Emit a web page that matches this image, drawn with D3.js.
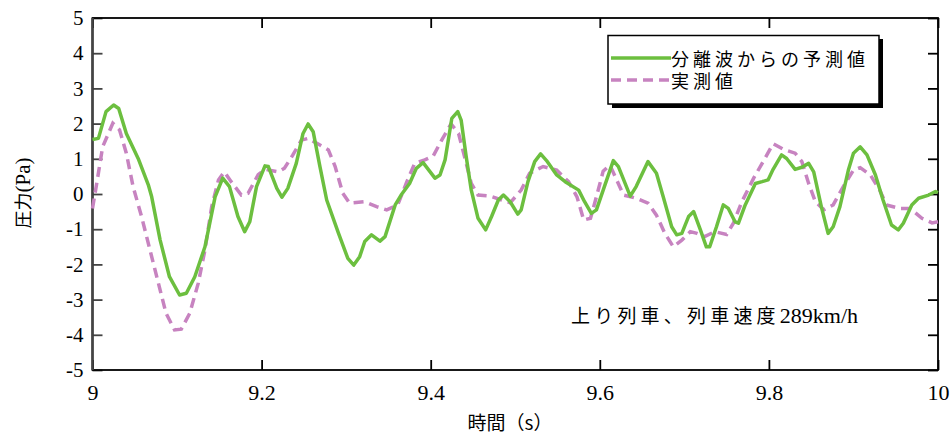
<!DOCTYPE html>
<html>
<head>
<meta charset="utf-8">
<script src="https://cdn.jsdelivr.net/npm/d3@7"></script>
<style>
  body { margin: 0; background: #fff; }
  svg { display: block; }
</style>
</head>
<body>
<svg id="chart" width="952" height="439"></svg>
<script>
// predicted from separated wave (green, solid)
const predTime = [9.000, 9.007, 9.016, 9.025, 9.031, 9.040, 9.054, 9.066, 9.070, 9.080, 9.091, 9.103, 9.111, 9.121, 9.133, 9.145, 9.154, 9.162, 9.172, 9.180, 9.186, 9.194, 9.204, 9.208, 9.218, 9.224, 9.231, 9.241, 9.249, 9.255, 9.261, 9.269, 9.277, 9.291, 9.302, 9.309, 9.316, 9.322, 9.330, 9.340, 9.346, 9.358, 9.365, 9.375, 9.383, 9.391, 9.405, 9.411, 9.417, 9.425, 9.432, 9.436, 9.442, 9.448, 9.456, 9.465, 9.472, 9.480, 9.486, 9.494, 9.503, 9.507, 9.515, 9.523, 9.530, 9.537, 9.549, 9.559, 9.575, 9.582, 9.590, 9.596, 9.604, 9.616, 9.622, 9.636, 9.643, 9.657, 9.667, 9.675, 9.685, 9.691, 9.697, 9.705, 9.711, 9.719, 9.726, 9.730, 9.738, 9.746, 9.752, 9.760, 9.764, 9.772, 9.784, 9.792, 9.799, 9.805, 9.815, 9.821, 9.831, 9.839, 9.847, 9.853, 9.862, 9.870, 9.876, 9.884, 9.894, 9.900, 9.908, 9.916, 9.926, 9.935, 9.945, 9.953, 9.959, 9.969, 9.977, 9.989, 9.997, 10.000];
const predValue = [1.55, 1.58, 2.34, 2.53, 2.43, 1.72, 1.01, 0.26, -0.08, -1.31, -2.35, -2.87, -2.82, -2.35, -1.50, -0.08, 0.45, 0.21, -0.64, -1.07, -0.79, 0.21, 0.80, 0.78, 0.16, -0.09, 0.16, 0.87, 1.72, 1.99, 1.77, 0.78, -0.17, -1.12, -1.83, -2.02, -1.78, -1.35, -1.16, -1.34, -1.21, -0.31, -0.03, 0.30, 0.73, 0.89, 0.45, 0.54, 0.97, 2.15, 2.34, 2.10, 1.06, 0.11, -0.69, -1.02, -0.64, -0.17, -0.03, -0.22, -0.57, -0.45, 0.35, 0.92, 1.14, 0.95, 0.54, 0.35, 0.11, -0.22, -0.55, -0.45, 0.11, 0.95, 0.78, -0.06, 0.21, 0.92, 0.59, -0.08, -0.93, -1.16, -1.12, -0.64, -0.50, -1.02, -1.50, -1.50, -0.93, -0.31, -0.41, -0.79, -0.83, -0.31, 0.30, 0.35, 0.40, 0.70, 1.11, 1.01, 0.70, 0.76, 0.87, 0.63, -0.36, -1.12, -0.93, -0.36, 0.68, 1.16, 1.34, 1.11, 0.54, -0.17, -0.88, -1.02, -0.83, -0.31, -0.12, -0.03, 0.07, 0.04];

// measured (pink, dashed)
const measTime = [9.000, 9.005, 9.012, 9.024, 9.032, 9.040, 9.048, 9.058, 9.068, 9.078, 9.087, 9.097, 9.105, 9.115, 9.125, 9.133, 9.141, 9.149, 9.156, 9.164, 9.176, 9.184, 9.196, 9.204, 9.220, 9.227, 9.237, 9.247, 9.255, 9.269, 9.279, 9.287, 9.296, 9.304, 9.322, 9.336, 9.348, 9.361, 9.371, 9.381, 9.393, 9.403, 9.413, 9.424, 9.433, 9.440, 9.448, 9.456, 9.470, 9.484, 9.494, 9.507, 9.517, 9.533, 9.549, 9.563, 9.573, 9.581, 9.589, 9.596, 9.604, 9.612, 9.620, 9.628, 9.643, 9.657, 9.667, 9.677, 9.687, 9.697, 9.707, 9.715, 9.724, 9.736, 9.750, 9.758, 9.768, 9.782, 9.792, 9.805, 9.817, 9.831, 9.839, 9.847, 9.855, 9.865, 9.876, 9.888, 9.900, 9.908, 9.920, 9.931, 9.939, 9.955, 9.967, 9.981, 9.993, 10.000];
const measValue = [-0.41, 0.30, 1.34, 2.01, 1.82, 1.16, 0.21, -0.64, -1.59, -2.54, -3.39, -3.86, -3.84, -3.39, -2.54, -1.59, -0.36, 0.40, 0.63, 0.35, -0.03, 0.02, 0.55, 0.70, 0.63, 0.73, 1.11, 1.53, 1.58, 1.39, 1.25, 0.78, 0.02, -0.26, -0.22, -0.36, -0.45, -0.31, 0.30, 0.87, 0.97, 1.08, 1.53, 1.99, 1.72, 1.06, 0.30, -0.03, -0.06, -0.17, -0.25, 0.11, 0.59, 0.78, 0.68, 0.35, -0.08, -0.74, -0.69, -0.08, 0.65, 0.82, 0.40, -0.03, -0.12, -0.26, -0.60, -1.12, -1.50, -1.31, -1.07, -1.12, -1.21, -1.07, -1.15, -0.83, -0.22, 0.45, 0.87, 1.43, 1.27, 1.16, 0.92, 0.30, -0.22, -0.45, -0.31, 0.21, 0.68, 0.75, 0.54, 0.11, -0.31, -0.41, -0.41, -0.69, -0.82, -0.79];

const xTicks = [9, 9.2, 9.4, 9.6, 9.8, 10];
const yTicks = [-5, -4, -3, -2, -1, 0, 1, 2, 3, 4, 5];
const seriesNames = ['分離波からの予測値', '実測値'];

const svg = d3.select('#chart');
const margin = {top: 18, right: 14, bottom: 69, left: 92.5};
const width = 952, height = 439;
const x = d3.scaleLinear().domain([9, 10]).range([margin.left, width - margin.right]);
const y = d3.scaleLinear().domain([-5, 5]).range([height - margin.bottom, margin.top]);

const green = '#6cbf3f', pink = '#c783c0';
const serif = '"Liberation Serif", serif';
const sans = '"Noto Sans CJK JP", sans-serif';
const plain = d => String(d);   // hyphen minus, like the original

// axes with inward ticks
const gBottom = svg.append('g').attr('transform', `translate(0,${y(-5)})`)
  .call(d3.axisBottom(x).tickValues(xTicks).tickSize(-10).tickPadding(14).tickFormat(plain));
const gTop = svg.append('g').attr('transform', `translate(0,${y(5)})`)
  .call(d3.axisTop(x).tickValues(xTicks).tickSize(-10).tickFormat(''));
const gLeft = svg.append('g').attr('transform', `translate(${x(9)},0)`)
  .call(d3.axisLeft(y).tickValues(yTicks).tickSize(-10).tickPadding(14).tickFormat(plain));
const gRight = svg.append('g').attr('transform', `translate(${x(10)},0)`)
  .call(d3.axisRight(y).tickValues(yTicks).tickSize(-10).tickFormat(''));

[gBottom, gTop, gLeft, gRight].forEach(g => {
  g.attr('font-family', null).attr('font-size', null);
  g.selectAll('line').attr('stroke', '#000').attr('stroke-width', 1.8);
  g.select('.domain').remove();
});
gLeft.selectAll('line').attr('stroke', '#444');

// frame
svg.append('rect')
  .attr('x', x(9)).attr('y', y(5))
  .attr('width', x(10) - x(9)).attr('height', y(-5) - y(5))
  .attr('fill', 'none').attr('stroke', '#000').attr('stroke-width', 1.8);
svg.append('line')
  .attr('x1', x(9)).attr('x2', x(9)).attr('y1', y(5)).attr('y2', y(-5))
  .attr('stroke', '#444').attr('stroke-width', 2.5);

gBottom.selectAll('text')
  .style('font-family', serif).style('font-size', '22px').attr('fill', '#000');
gLeft.selectAll('text')
  .style('font-family', serif).style('font-size', '21px').attr('fill', '#000').attr('dx', 5);

// lines
const line = d3.line().x(d => x(d[0])).y(d => y(d[1]));
const predData = d3.zip(predTime, predValue);
const measData = d3.zip(measTime, measValue);

svg.append('path').datum(measData)
  .attr('d', line).attr('fill', 'none')
  .attr('stroke', pink).attr('stroke-width', 3.5)
  .attr('stroke-dasharray', '10,6');
svg.append('path').datum(predData)
  .attr('d', line).attr('fill', 'none')
  .attr('stroke', green).attr('stroke-width', 3.5)
  .attr('stroke-linejoin', 'round');

// legend
const lg = svg.append('g');
lg.append('rect').attr('x', 612).attr('y', 39).attr('width', 271).attr('height', 69).attr('fill', '#000');
lg.append('rect').attr('x', 608).attr('y', 35.5).attr('width', 271).attr('height', 68.5)
  .attr('fill', '#fff').attr('stroke', '#000').attr('stroke-width', 1.5);
[[green, null, 58], [pink, '10,6', 80]].forEach(([c, dash, ly], i) => {
  lg.append('line').attr('x1', 611).attr('x2', 671).attr('y1', ly).attr('y2', ly)
    .attr('stroke', c).attr('stroke-width', 3.5).attr('stroke-dasharray', dash);
  lg.append('text').attr('x', 671).attr('y', ly + 7.5)
    .style('font-family', sans).style('font-size', '18px').style('letter-spacing', '4px')
    .text(seriesNames[i]);
});

// annotation
const note = svg.append('text').attr('x', 571).attr('y', 323);
note.append('tspan').style('font-family', sans).style('font-size', '19px')
  .style('letter-spacing', '4.2px').text('上り列車、列車速度');
note.append('tspan').style('font-family', serif).style('font-size', '22px').text('289km/h');

// axis titles
const yl = svg.append('text')
  .attr('transform', 'translate(30,193) rotate(-90)')
  .attr('text-anchor', 'middle');
yl.append('tspan').style('font-family', sans).style('font-size', '18px').text('圧力');
yl.append('tspan').style('font-family', serif).style('font-size', '21px').text('(Pa)');

svg.append('text').attr('x', 510).attr('y', 430)
  .attr('text-anchor', 'middle').style('font-family', sans).style('font-size', '19px')
  .text('時間（s）');
</script>
</body>
</html>
